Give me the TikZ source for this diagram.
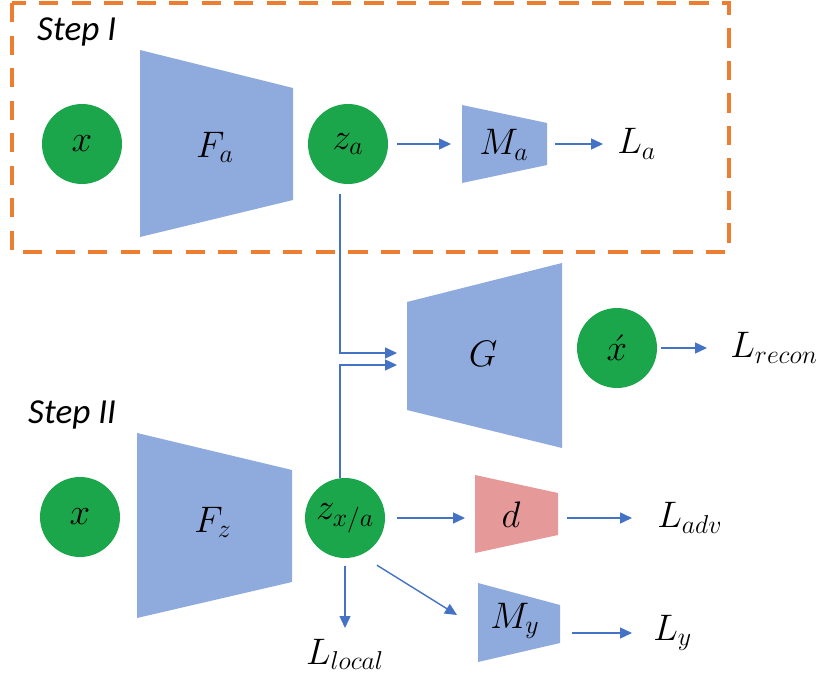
\documentclass[tikz,border=0pt]{standalone}
\usepackage{fix-cm}
\usepackage{fontspec}
\newfontfamily\stepfont{Carlito}
\usetikzlibrary{arrows.meta}

\definecolor{netblue}{RGB}{143,170,220}
\definecolor{codegreen}{RGB}{28,166,76}
\definecolor{discpink}{RGB}{230,153,153}
\definecolor{boxorange}{RGB}{237,125,49}
\definecolor{flowblue}{RGB}{68,114,196}

\tikzset{
  latent/.style={circle, fill=codegreen, minimum size=1.6cm, inner sep=0pt},
  flow/.style={draw=flowblue, line width=0.8pt, -{Triangle[length=2.4mm,width=2.2mm]}},
  loss/.style={anchor=west, inner sep=0.1cm},
  steplabel/.style={anchor=west, font=\stepfont\itshape\fontsize{20}{24}\selectfont},
}

\begin{document}
\begin{tikzpicture}[font=\fontsize{21}{25}\selectfont]
  \useasboundingbox (0,0) rectangle (16.62,-13.54);

  %% ---- STEP I ----
  \draw[boxorange, line width=2.2pt, dash pattern=on 11pt off 7.5pt] (0.24,-0.06) rectangle (14.58,-5.04);
  \node[steplabel] (s1) at (0.62,-0.64) {Step I};

  %% input and encoder
  \node[latent] (xa) at (1.64,-2.88) {$x$};
  \fill[netblue] (2.80,-1.00) -- (5.86,-1.76) -- (5.86,-4.00) -- (2.80,-4.74) -- cycle;
  \node (Fa) at (4.30,-2.95) {$F_a$};
  \node[latent] (za) at (6.96,-2.88) {$z_a$};

  %% attribute classifier
  \fill[netblue] (9.24,-2.10) -- (10.94,-2.46) -- (10.94,-3.30) -- (9.24,-3.66) -- cycle;
  \node (Ma) at (10.08,-2.90) {$M_a$};
  \coordinate (Ma-in) at (9.02,-2.88);
  \coordinate (Ma-out) at (10.94,-2.88);
  \node[loss] (La) at (12.24,-2.88) {$L_a$};
  \draw[flow, shorten <=0.18cm] (za) -- (Ma-in);
  \draw[flow, shorten <=0.16cm, shorten >=0.18cm] (Ma-out) -- (La);

  %% ---- GENERATOR ----
  \fill[netblue] (8.14,-6.04) -- (11.24,-5.26) -- (11.24,-8.96) -- (8.14,-8.20) -- cycle;
  \node (G) at (9.66,-7.08) {$G$};
  \coordinate (G-in1) at (7.94,-7.06);
  \coordinate (G-in2) at (7.94,-7.30);
  \node[latent] (xh) at (12.34,-6.96) {$\acute{x}$};
  \node[loss] (Lrecon) at (14.50,-6.96) {$L_{recon}$};
  \draw[flow, shorten <=0.08cm, shorten >=0.36cm] (xh) -- (Lrecon);

  %% ---- STEP II ----
  \node[steplabel] (s2) at (0.44,-8.30) {Step II};
  \node[latent] (xb) at (1.60,-10.34) {$x$};
  \fill[netblue] (2.74,-8.66) -- (5.84,-9.40) -- (5.84,-11.64) -- (2.74,-12.36) -- cycle;
  \node (Fz) at (4.26,-10.45) {$F_z$};
  \node[latent] (zxa) at (6.90,-10.36) {$z_{x/a}$};

  %% both codes into G
  \draw[flow, shorten <=0.2cm] ([xshift=-0.16cm]za.south) |- (G-in1);
  \draw[flow] ([xshift=-0.10cm]zxa.north) |- (G-in2);

  %% discriminator
  \fill[discpink] (9.50,-9.50) -- (11.16,-9.86) -- (11.16,-10.70) -- (9.50,-11.06) -- cycle;
  \node (d) at (10.22,-10.30) {$d$};
  \coordinate (d-in) at (9.30,-10.36);
  \coordinate (d-out) at (11.16,-10.36);
  \node[loss] (Ladv) at (13.04,-10.36) {$L_{adv}$};
  \draw[flow, shorten <=0.24cm] (zxa) -- (d-in);
  \draw[flow, shorten <=0.18cm, shorten >=0.40cm] (d-out) -- (Ladv);

  %% label classifier
  \fill[netblue] (9.56,-11.66) -- (11.20,-12.10) -- (11.20,-12.86) -- (9.56,-13.24) -- cycle;
  \node (My) at (10.30,-12.42) {$M_y$};
  \coordinate (My-in) at (9.14,-12.30);
  \coordinate (My-out) at (11.20,-12.66);
  \node[loss] (Ly) at (12.96,-12.66) {$L_y$};
  \draw[flow, shorten <=0.38cm] (zxa.-67) -- (My-in);
  \draw[flow, shorten <=0.24cm, shorten >=0.32cm] (My-out) -- (Ly);

  %% local loss
  \node[anchor=north] (Llocal) at (6.90,-12.66) {$L_{local}$};
  \draw[flow, shorten <=0.16cm, shorten >=0.1cm] (zxa) -- (Llocal);

\end{tikzpicture}
\end{document}
